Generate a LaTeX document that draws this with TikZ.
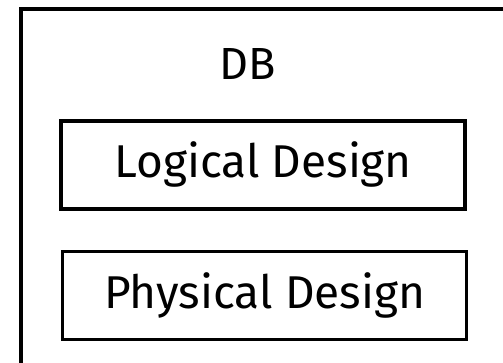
\documentclass[tikz,border=0pt]{standalone}
\usepackage{fontspec}
\setmainfont{Fira Sans}
\begin{document}
\begin{tikzpicture}[x=1pt, y=1pt, designbox/.style={draw, line width=3.5pt, minimum width=404pt, minimum height=88pt, inner sep=0pt, font=\fontsize{46}{50}\selectfont}]
  \useasboundingbox (0,0) rectangle (503,363);
  \clip (0,0) rectangle (503,363);
  \draw[line width=4pt] (21,-20) -- (21,354) -- (530,354);
  \node[anchor=base, font=\fontsize{45}{50}\selectfont] (db) at (248,283.7) {DB};
  \node[designbox] (logical) at (263.2,198.1) {Logical Design};
  \node[designbox] (physical) at (264.6,67.7) {Physical Design};
\end{tikzpicture}
\end{document}
